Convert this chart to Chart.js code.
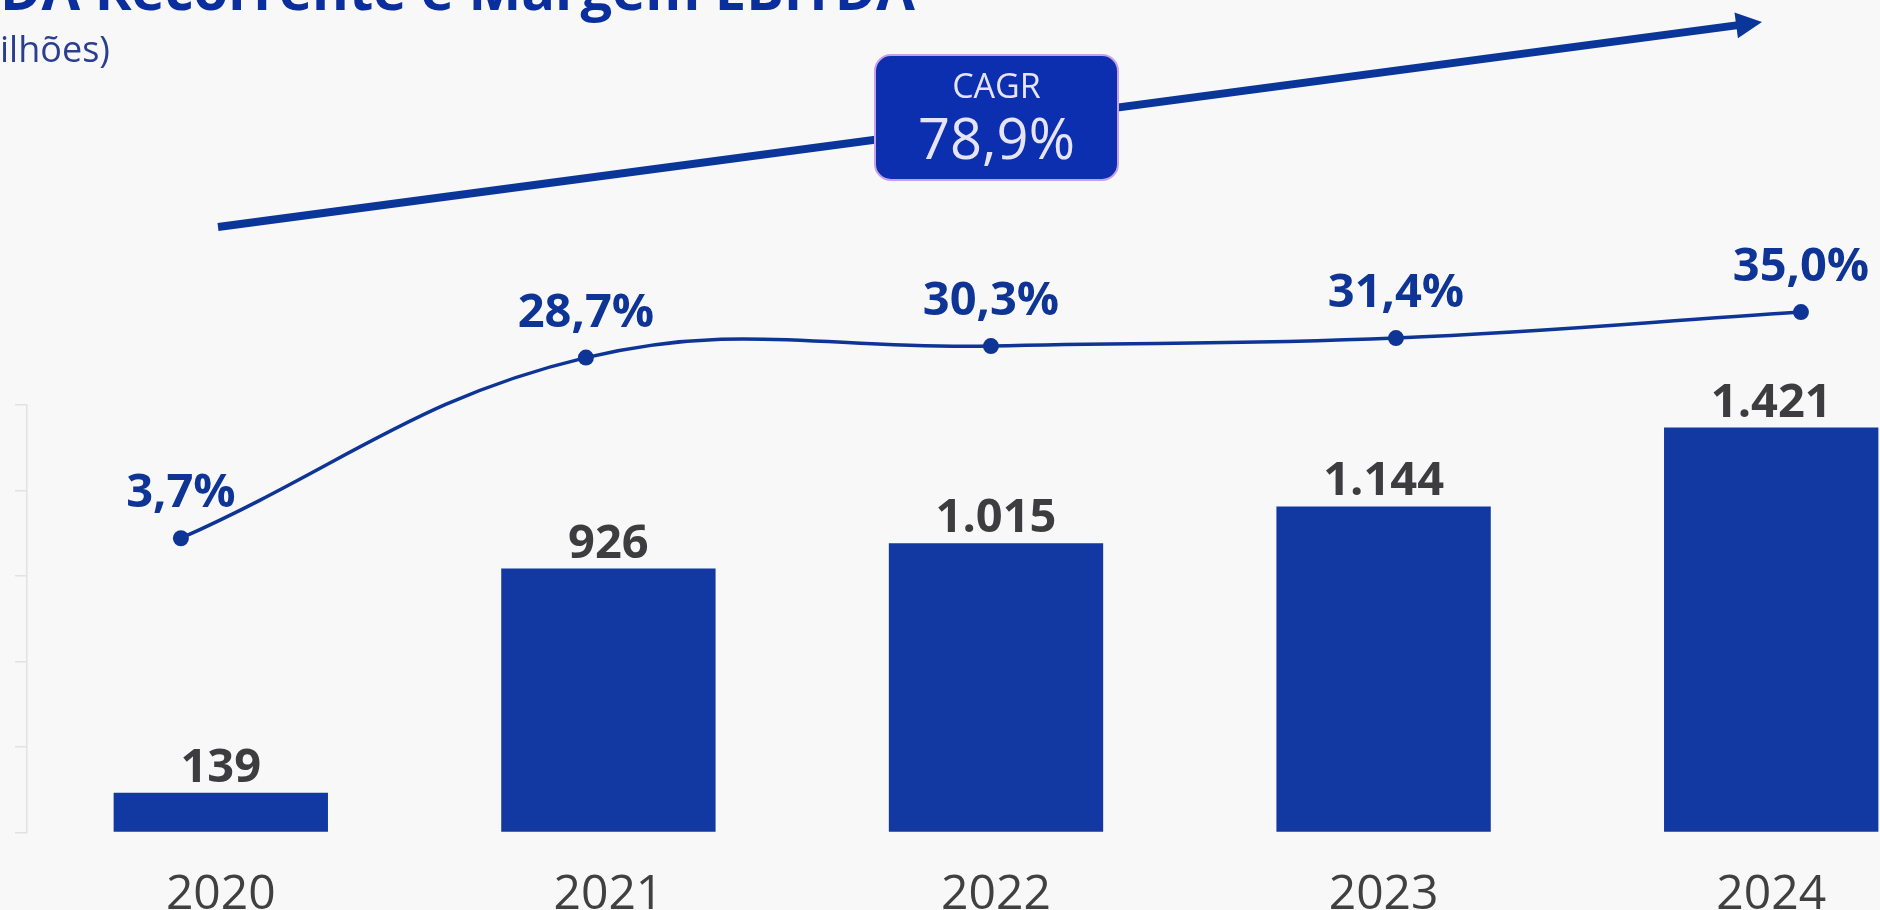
<!DOCTYPE html>
<html>
<head>
<meta charset="utf-8">
<script src="https://cdn.jsdelivr.net/npm/chart.js@4.4.1/dist/chart.umd.min.js"></script>
<style>
    html, body { margin: 0; padding: 0; background: #f8f8f9; overflow: hidden; }
    #graf_ebitda { position: absolute; left: 0; top: 0; }
</style>
</head>
<body>
<canvas id="graf_ebitda" width="1965" height="961"></canvas>
<script>
// --- DADOS ---
const anos = ["2020", "2021", "2022", "2023", "2024"];
const ebitda = [139, 926, 1015, 1144, 1421];      // R$ milhões
const margem = [3.7, 28.7, 30.3, 31.4, 35.0];      // %
const cagrTitulo = "CAGR";
const cagrValor = "78,9%";
const titulo = "EBITDA Recorrente e Margem EBITDA";
const subtitulo = "(R$ milhões)";

const AZUL = "#0e3596";
const FONTE = "'Open Sans', 'Noto Sans', sans-serif";

function fmtMil(v) {
    return String(v).replace(/\B(?=(\d{3})+(?!\d))/g, ".");
}
function fmtPct(v) {
    return v.toFixed(1).replace(".", ",") + "%";
}

// --- RÓTULOS, SETA, CAIXA CAGR, TÍTULO ---
const extras = {
    id: "extras",
    afterDatasetsDraw(chart) {
        const ctx = chart.ctx;
        ctx.save();
        ctx.textAlign = "center";
        ctx.textBaseline = "alphabetic";

        // valores das barras
        ctx.fillStyle = "#3d3d40";
        ctx.font = "700 47px " + FONTE;
        chart.getDatasetMeta(0).data.forEach((bar, i) => {
            ctx.fillText(fmtMil(ebitda[i]), bar.x, bar.y - 11);
        });

        // pontos e rótulos da margem (ficam fora da área do gráfico)
        ctx.fillStyle = AZUL;
        chart.getDatasetMeta(1).data.forEach((pt, i) => {
            ctx.beginPath();
            ctx.arc(pt.x, pt.y, 8, 0, Math.PI * 2);
            ctx.fill();
            ctx.fillText(fmtPct(margem[i]), pt.x, pt.y - 31);
        });
        ctx.restore();
    },
    afterDraw(chart) {
        const ctx = chart.ctx;
        ctx.save();

        // seta
        const x0 = 218, y0 = 227, x1 = 1762, y1 = 22;
        const dx = x1 - x0, dy = y1 - y0;
        const len = Math.sqrt(dx * dx + dy * dy);
        const ux = dx / len, uy = dy / len;
        const bx = x1 - ux * 26, by = y1 - uy * 26;
        ctx.strokeStyle = "#0b3699";
        ctx.fillStyle = "#0b3699";
        ctx.lineWidth = 8;
        ctx.beginPath();
        ctx.moveTo(x0, y0);
        ctx.lineTo(bx + ux * 2, by + uy * 2);
        ctx.stroke();
        ctx.beginPath();
        ctx.moveTo(x1, y1);
        ctx.lineTo(bx - uy * 13, by + ux * 13);
        ctx.lineTo(bx + uy * 13, by - ux * 13);
        ctx.closePath();
        ctx.fill();

        // caixa CAGR
        ctx.beginPath();
        ctx.roundRect(875, 55, 243, 125, 16);
        ctx.fillStyle = "#0b2fae";
        ctx.fill();
        ctx.lineWidth = 2;
        ctx.strokeStyle = "#c9a0e8";
        ctx.stroke();

        ctx.textAlign = "center";
        ctx.fillStyle = "#e6e4f6";
        ctx.font = "400 34px " + FONTE;
        ctx.fillText(cagrTitulo, 996.5, 98);
        ctx.font = "400 56px " + FONTE;
        ctx.fillText(cagrValor, 996.5, 159);

        // título (cortado no topo e à esquerda, como no original)
        ctx.textAlign = "left";
        ctx.fillStyle = "#0b2e9e";
        ctx.font = "700 56px " + FONTE;
        ctx.fillText(titulo, -ctx.measureText("EBIT").width, 10);

        ctx.fillStyle = "#2a3f8f";
        ctx.font = "400 36px " + FONTE;
        ctx.fillText(subtitulo, -ctx.measureText("(R$ m").width, 62);

        ctx.restore();
    }
};

// --- GRÁFICO ---
const grafico = new Chart(document.getElementById("graf_ebitda"), {
    type: "bar",
    data: {
        labels: anos,
        datasets: [{
            type: "bar",
            label: "EBITDA Recorrente",
            data: ebitda,
            backgroundColor: "#1239a2",
            categoryPercentage: 1,
            barPercentage: 0.553,
            grouped: false,
            xAxisID: "x",
            yAxisID: "y"
        }, {
            type: "line",
            label: "Margem EBITDA",
            data: margem.map((m, i) => ({ x: Number(anos[i]), y: m })),
            borderColor: AZUL,
            backgroundColor: AZUL,
            borderWidth: 3.5,
            pointRadius: 0,
            pointHoverRadius: 0,
            tension: 0.4,
            clip: false,
            xAxisID: "x2",
            yAxisID: "y2"
        }]
    },
    options: {
        responsive: false,
        animation: false,
        layout: { padding: { left: 15, top: 405, right: 0, bottom: 3 } },
        plugins: {
            legend: { display: false },
            tooltip: { enabled: false }
        },
        scales: {
            x: {
                type: "category",
                offset: true,
                grid: { display: false, drawTicks: false },
                border: { display: false },
                ticks: {
                    color: "#404040",
                    font: { family: FONTE, size: 48, weight: "400" },
                    padding: 34
                }
            },
            y: {
                min: 0,
                max: 1500,
                ticks: { display: false, stepSize: 300 },
                grid: { drawOnChartArea: false, drawTicks: true, tickLength: 12, color: "#e2e2e4", lineWidth: 1.5 },
                border: { display: true, color: "#e2e2e4", width: 1.5 }
            },
            x2: {
                type: "linear",
                display: false,
                offset: false,
                min: 2019.62,
                max: 2024.405
            },
            y2: {
                type: "linear",
                display: false,
                min: -37.02,
                max: 22.14
            }
        }
    },
    plugins: [extras]
});
</script>
</body>
</html>
